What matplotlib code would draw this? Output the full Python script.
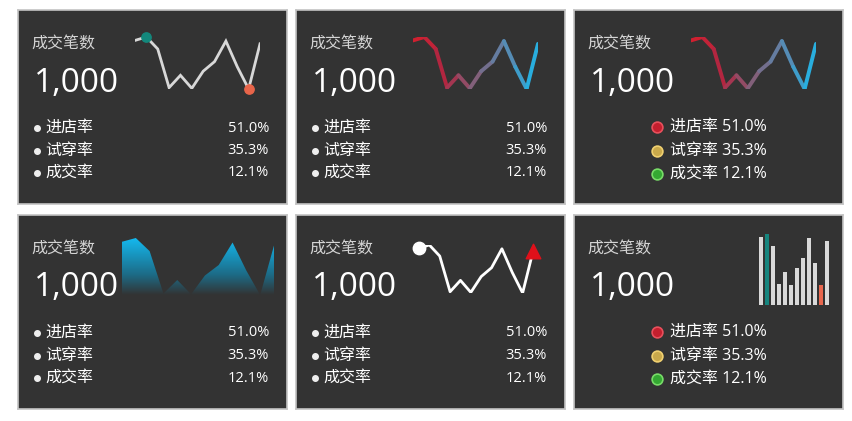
import numpy as np
import matplotlib.pyplot as plt
from matplotlib.collections import LineCollection
from matplotlib.colors import LinearSegmentedColormap

plt.rcParams['font.family'] = ['Open Sans', 'Noto Sans CJK SC', 'DejaVu Sans']

W, H = 852, 421

# data
months = np.arange(1, 13)
values = np.array([200, 210, 175, 62, 98, 60, 110, 138, 198, 123, 58, 190])
title = '成交笔数'
total = '1,000'
rate_names = ['进店率', '试穿率', '成交率']
rate_values = ['51.0%', '35.3%', '12.1%']
legend_colors = ['#c41f2e', '#c9a94b', '#34a832']
legend_edges = ['#e8505c', '#f0d070', '#78dc68']

BG = '#333333'
imax = int(np.argmax(values))
imin = int(np.argmin(values))


def fbox(x, y, w, h):
    return [x / W, 1 - (y + h) / H, w / W, h / H]


fig = plt.figure(figsize=(W / 100, H / 100), dpi=100)
fig.patch.set_facecolor('white')

panels = [(18, 10), (296, 10), (574, 10), (18, 215), (296, 215), (574, 215)]
for x0, y0 in panels:
    ax = fig.add_axes(fbox(x0, y0, 269, 194))
    ax.set_facecolor(BG)
    ax.set_xticks([])
    ax.set_yticks([])
    for s in ax.spines.values():
        s.set_color('#c4c4c4')
        s.set_linewidth(1.2)


def chart_ax(x, y, w, h):
    ax = fig.add_axes(fbox(x, y, w, h))
    ax.set_facecolor('none')
    ax.axis('off')
    ax.set_xlim(months[0], months[-1])
    ax.set_ylim(values.min(), values.max())
    return ax


# 1: plain line with max/min markers
x0, y0 = panels[0]
ax = chart_ax(x0 + 117, y0 + 27, 125, 52)
ax.plot(months, values, color='#d8d8d8', lw=2, solid_joinstyle='miter')
ax.scatter(months[imax], values[imax], s=45, color='#13887c', zorder=3, clip_on=False)
ax.scatter(months[imin], values[imin], s=45, color='#e8654a', zorder=3, clip_on=False)

# 2 and 3: gradient line
grad_cmap = LinearSegmentedColormap.from_list(
    'rb', ['#d61f2c', '#b02742', '#82607a', '#5a88b0', '#1fb6e8'])
for x0, y0 in panels[1:3]:
    ax = chart_ax(x0 + 117, y0 + 27, 125, 52)
    pts = np.column_stack([months, values])
    segs = np.stack([pts[:-1], pts[1:]], axis=1)
    mids = (months[:-1] + months[1:]) / 2
    lc = LineCollection(segs, colors=grad_cmap((mids - 1) / 11), linewidths=2.8,
                        capstyle='round', joinstyle='round')
    ax.add_collection(lc)

# 4: area with fading gradient
x0, y0 = panels[3]
ax = chart_ax(x0 + 104, y0 + 23, 152, 57)
poly = ax.fill_between(months, values, values.min(), facecolor='none', edgecolor='none')
area_cmap = LinearSegmentedColormap.from_list(
    'area', [(0, BG), (0.35, '#1d6a85'), (1, '#14b9ef')])
im = ax.imshow(np.linspace(1, 0, 256).reshape(-1, 1), cmap=area_cmap, aspect='auto',
               extent=[months[0], months[-1], values.min(), values.max()], origin='upper')
im.set_clip_path(poly.get_paths()[0], transform=ax.transData)
ax.set_xlim(months[0], months[-1])
ax.set_ylim(values.min(), values.max())

# 5: white line, start circle, end triangle
x0, y0 = panels[4]
ax = chart_ax(x0 + 123, y0 + 30, 114, 48)
ax.plot(months, values, color='white', lw=2)
ax.scatter(months[0], values[0], s=80, color='white', zorder=3, clip_on=False)
ax.scatter(months[-1], values[-1], s=110, marker='^', color='#e0101a', zorder=3, clip_on=False)

# 6: bars
x0, y0 = panels[5]
ax = fig.add_axes(fbox(x0 + 184, y0 + 19, 72, 71))
ax.axis('off')
bar_colors = ['#d9d9d9'] * len(values)
bar_colors[imax] = '#16857e'
bar_colors[imin] = '#e8674e'
ax.bar(months, values, width=0.78, color=bar_colors)
ax.set_xlim(0.5, 12.5)
ax.set_ylim(0, values.max())

# text overlay in pixel coords
ov = fig.add_axes([0, 0, 1, 1])
ov.set_xlim(0, W)
ov.set_ylim(H, 0)
ov.axis('off')
ov.set_zorder(10)

for i, (x0, y0) in enumerate(panels):
    ov.text(x0 + 13, y0 + 35, title, color='#d4d4d4', fontsize=11.5, va='center')
    ov.text(x0 + 16, y0 + 73, total, color='white', fontsize=24, va='center')
    if i in (2, 5):
        for k, (n, v) in enumerate(zip(rate_names, rate_values)):
            yy = y0 + 117 + k * 23.5
            ov.scatter(x0 + 83, yy, s=60, color=legend_colors[k],
                       edgecolors=legend_edges[k], linewidths=1.2)
            ov.text(x0 + 96, yy, n + ' ' + v, color='white', fontsize=11.5, va='center')
    else:
        for k, (n, v) in enumerate(zip(rate_names, rate_values)):
            yy = y0 + 118 + k * 22.5
            ov.scatter(x0 + 19, yy, s=16, color='#eeeeee')
            ov.text(x0 + 27, yy, n, color='white', fontsize=11.5, va='center')
            ov.text(x0 + 251, yy, v, color='white', fontsize=10.5, va='center', ha='right')

fig.savefig('out.png', dpi=100, facecolor='white')
